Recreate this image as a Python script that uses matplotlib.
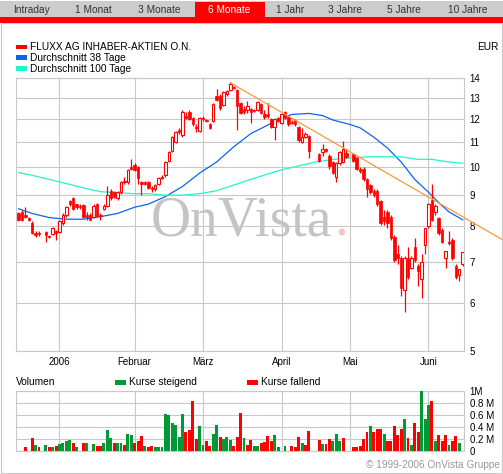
import numpy as np
import matplotlib
matplotlib.use("Agg")
import matplotlib.pyplot as plt
from matplotlib.patches import Rectangle
from matplotlib.ticker import NullLocator

plt.rcParams['font.family'] = ['Liberation Sans', 'DejaVu Sans']

# daily candles, one slot per weekday (nan = no trading)
nan = np.nan
opens = [8.40, 8.45, 8.35, 8.25, 8.10, 7.80, 7.80, nan, 7.82, 7.72,
         7.78, 7.85, 7.82, 8.10, 8.35, 8.80, 8.90, 8.70, 8.65, 8.66,
         8.35, 8.35, 8.30, 8.70, 8.35, 8.55, 8.65, 9.15, 9.10, 8.90,
         9.10, 9.45, 9.45, 10.00, 10.10, 10.00, 9.45, 9.45, 9.45, 9.25,
         9.20, 9.40, 9.60, 9.70, 10.25, 10.65, 11.00, 11.50, 11.30, 12.15,
         12.30, 12.05, 11.60, 11.45, 12.05, 11.95, 11.75, 11.90, 13.10, 13.10,
         12.65, 13.20, 13.40, 13.55, 13.40, 12.75, 12.45, 12.40, 12.45, 12.40,
         12.40, 12.70, 12.20, 12.20, 12.00, 11.65, 12.05, 11.80, 12.30, 12.10,
         11.85, 11.95, 11.65, 11.00, 11.20, 11.25, nan, nan, 10.50, 10.60,
         10.70, 10.45, 10.20, 9.65, 10.15, 10.20, 10.55, nan, 10.50, 10.35,
         9.95, 9.95, 9.55, 9.35, 9.15, 9.15, 8.80, 8.30, 8.45, 8.30,
         7.70, 7.20, 7.10, 6.30, 7.10, 6.85, 7.40, 6.90, 6.55, 7.45,
         8.00, 8.85, 8.45, 8.25, 7.90, 7.10, 7.50, 7.60, 6.90, 6.65,
         6.95]
highs = [8.45, 8.50, 8.60, 8.30, 8.15, 7.85, 7.85, nan, 7.85, 7.75,
         7.98, 7.90, 8.20, 8.40, 8.65, 8.85, 8.95, 8.72, 8.70, 8.70,
         8.45, 8.40, 8.70, 8.75, 8.40, 8.70, 9.30, 9.20, 9.15, 9.15,
         9.50, 9.65, 9.95, 10.30, 10.15, 10.05, 9.50, 9.50, 9.50, 9.30,
         9.40, 9.65, 9.70, 10.25, 10.65, 11.25, 11.45, 11.60, 12.40, 12.30,
         12.40, 12.10, 11.75, 12.10, 12.15, 12.00, 11.80, 12.75, 13.45, 13.20,
         13.35, 13.40, 13.80, 13.60, 13.45, 12.80, 12.60, 12.85, 12.50, 12.45,
         12.85, 12.75, 12.40, 12.75, 12.05, 12.05, 12.10, 12.25, 12.35, 12.15,
         11.95, 12.00, 11.70, 11.60, 11.40, 11.30, nan, nan, 10.55, 10.90,
         10.75, 10.50, 10.25, 10.20, 10.65, 11.05, 10.70, nan, 10.55, 10.40,
         10.00, 10.00, 9.60, 9.40, 9.20, 9.20, 8.85, 8.50, 8.50, 8.35,
         7.75, 7.45, 7.15, 7.15, 7.40, 7.15, 7.65, 6.95, 7.20, 7.95,
         8.75, 9.40, 8.70, 8.30, 7.95, 7.30, 7.85, 7.65, 6.95, 6.80,
         7.25]
lows = [8.15, 8.15, 8.25, 8.15, 7.78, 7.70, 7.72, nan, 7.55, 7.65,
        7.75, 7.60, 7.80, 8.05, 8.30, 8.65, 8.50, 8.55, 8.55, 8.25,
        8.20, 8.18, 8.25, 8.28, 8.20, 8.50, 8.60, 8.85, 8.90, 8.85,
        9.05, 9.40, 9.40, 9.90, 9.85, 9.40, 9.00, 9.35, 9.20, 9.10,
        9.15, 9.35, 9.55, 9.65, 10.20, 10.60, 10.95, 11.35, 11.20, 12.00,
        11.95, 11.70, 11.40, 11.40, 11.90, 11.85, 11.55, 11.85, 12.85, 12.40,
        12.60, 13.10, 13.35, 13.45, 11.50, 12.20, 12.20, 12.25, 11.80, 12.30,
        12.35, 12.20, 12.00, 12.05, 11.60, 11.10, 11.85, 11.75, 12.00, 11.70,
        11.75, 11.70, 11.00, 10.95, 11.15, 10.35, nan, nan, 10.20, 10.45,
        10.60, 9.95, 9.75, 9.45, 10.10, 10.15, 10.35, nan, 10.20, 9.90,
        9.80, 9.50, 8.95, 9.05, 8.95, 8.65, 8.05, 8.05, 7.95, 7.60,
        7.00, 6.95, 6.15, 5.80, 6.55, 6.80, 7.00, 6.40, 6.10, 7.20,
        7.95, 8.15, 8.35, 7.75, 7.50, 6.85, 7.45, 7.05, 6.55, 6.50,
        6.90]
closes = [8.20, 8.20, 8.30, 8.20, 7.80, 7.75, 7.77, nan, 7.75, 7.68,
          7.95, 7.80, 8.15, 8.35, 8.60, 8.72, 8.55, 8.60, 8.60, 8.30,
          8.30, 8.20, 8.65, 8.32, 8.32, 8.65, 9.00, 8.90, 8.95, 9.10,
          9.45, 9.50, 9.90, 9.95, 9.90, 9.60, 9.40, 9.40, 9.25, 9.20,
          9.35, 9.60, 9.65, 10.20, 10.60, 11.20, 11.40, 11.40, 12.30, 12.05,
          12.00, 11.75, 11.65, 12.05, 12.00, 11.90, 11.60, 12.70, 12.90, 12.50,
          13.30, 13.35, 13.70, 13.50, 12.60, 12.25, 12.30, 12.60, 12.30, 12.35,
          12.80, 12.25, 12.10, 12.15, 11.65, 12.00, 11.90, 12.20, 12.05, 11.75,
          11.80, 11.75, 11.10, 11.20, 11.35, 10.65, nan, nan, 10.25, 10.70,
          10.65, 10.05, 9.80, 10.15, 10.60, 10.70, 10.40, nan, 10.25, 9.95,
          9.85, 9.55, 9.20, 9.10, 9.00, 8.70, 8.10, 8.15, 8.10, 7.65,
          7.05, 7.10, 6.35, 7.10, 6.60, 7.10, 7.05, 6.75, 7.00, 7.95,
          8.70, 8.20, 8.65, 7.80, 7.55, 7.30, 7.55, 7.10, 6.60, 6.80,
          7.25]

# volume in millions, 'g' = Kurse steigend, 'r' = Kurse fallend, '-' = none
volume = [0, 0, 0.07, 0, 0.22, 0.10, 0.07, 0, 0.10, 0.07,
          0.07, 0.09, 0.12, 0.14, 0.17, 0.18, 0.14, 0.07, 0, 0.14,
          0.13, 0, 0.12, 0.09, 0.08, 0.13, 0.35, 0.22, 0.14, 0.13,
          0.14, 0.10, 0.28, 0.27, 0.14, 0.17, 0.25, 0.08, 0.07, 0.08,
          0.07, 0.07, 0.07, 0.62, 0.60, 0.46, 0.43, 0.24, 0.62, 0.31,
          0.35, 0.83, 0.20, 0.42, 0.10, 0.17, 0.09, 0.28, 0.43, 0.24,
          0.20, 0.24, 0.18, 0.08, 0.24, 0.64, 0.22, 0.10, 0.18, 0.08,
          0.08, 0.14, 0.15, 0.25, 0.16, 0.27, 0.07, 0, 0.08, 0,
          0.08, 0.07, 0.24, 0.14, 0.10, 0.33, 0, 0, 0.19, 0.12,
          0.12, 0.20, 0.17, 0.28, 0.17, 0.22, 0, 0, 0.07, 0.07,
          0.08, 0.20, 0.31, 0.42, 0.31, 0.37, 0.37, 0.28, 0.17, 0.17,
          0.42, 0.27, 0.37, 0.53, 0.22, 0.10, 0.47, 0.32, 1.00, 0.53,
          0.77, 0.83, 0.16, 0.27, 0.17, 0.27, 0.10, 0.17, 0.25, 0.13,
          0]
vol_dir = ''.join(['--r-rgr-gr', 'grggggrg-r', 'g-grrgggrg', 'grggrrrgrr',
                   'gggggggggr', 'rrrggrrggr', 'gggrrrgrrg', 'grrrrgg-g-',
                   'rrrgrr--rg', 'rrgggr--rr', 'rrrgrrrgrr', 'rrrgrgrrgg',
                   'grgrrrgrrg', '-'])

# moving averages
ma38_idx = [0, 4, 9, 14, 19, 24, 29, 34, 38, 43, 48, 53, 58, 63, 68, 72,
            77, 80, 85, 89, 92, 97, 100, 104, 108, 112, 116, 120, 123, 126, 130]
ma38 = [8.55, 8.40, 8.27, 8.22, 8.22, 8.30, 8.40, 8.60, 8.70, 8.95, 9.30,
        9.78, 10.20, 10.80, 11.35, 11.65, 12.05, 12.20, 12.25, 12.15, 11.95,
        11.75, 11.60, 11.20, 10.75, 10.20, 9.55, 9.10, 8.75, 8.45, 8.20]
ma100_idx = [0, 4, 9, 14, 19, 24, 29, 34, 38, 43, 48, 53, 58, 63, 68, 73,
             77, 82, 87, 92, 97, 102, 107, 112, 117, 121, 126, 130]
ma100 = [9.80, 9.70, 9.55, 9.40, 9.25, 9.12, 9.08, 9.05, 9.05, 9.00, 9.00,
         9.05, 9.15, 9.35, 9.55, 9.75, 9.90, 10.05, 10.20, 10.30, 10.35,
         10.40, 10.40, 10.40, 10.30, 10.30, 10.20, 10.15]

trend_idx = [62, 141.8]
trend_val = [13.75, 7.6]

month_idx = [12, 34, 54, 77, 97, 120]
month_labels = ['2006', 'Februar', 'März', 'April', 'Mai', 'Juni']
price_ticks = [5, 6, 7, 8, 9, 10, 11, 12, 13, 14]
vol_ticks = [0, 0.2, 0.4, 0.6, 0.8, 1.0]
vol_labels = ['0', '0.2 M', '0.4 M', '0.6 M', '0.8 M', '1M']
tabs = ['Intraday', '1 Monat', '3 Monate', '6 Monate', '1 Jahr', '3 Jahre', '5 Jahre', '10 Jahre']
tab_x = [31.7, 93, 158.8, 228.8, 290, 345, 404, 467.5]

RED = '#ff0000'
GREEN = '#009933'
BLUE = '#0a64f0'
CYAN = '#22f5c8'
ORANGE = '#ff9933'
GRID = '#c8c8c8'

W, H = 503, 474
fig = plt.figure(figsize=(W / 100, H / 100), dpi=100)


def fx(px):
    return px / W


def fy(py):
    return 1 - py / H


def box(x0, y0, x1, y1, **kw):
    fig.patches.append(Rectangle((fx(x0), fy(y1)), fx(x1) - fx(x0), fy(y0) - fy(y1),
                                 transform=fig.transFigure, **kw))


# tab bar
box(0, 1, W, 17.3, color='#cccccc', lw=0)
box(195, 2, 265, 17.3, color=RED, lw=0)
box(0, 17.3, W, 22.7, color=RED, lw=0)
for t, tx in zip(tabs, tab_x):
    fig.text(fx(tx), fy(10), t, ha='center', va='center', fontsize=7.3,
             color='white' if t == '6 Monate' else '#333333')
# outer frame
box(0.5, 23, W - 1, 472.5, fill=False, ec=GRID, lw=0.8)

ax = fig.add_axes([fx(16), fy(351), fx(464) - fx(16), fy(78) - fy(351)])
axv = fig.add_axes([fx(16), fy(451), fx(464) - fx(16), fy(391) - fy(451)])

x = np.arange(len(closes))
o = np.array(opens)
h = np.array(highs)
l = np.array(lows)
c = np.array(closes)
ok = ~np.isnan(c)

ax.set_yscale('log')
ax.vlines(x[ok], l[ok], h[ok], color=RED, lw=0.9, zorder=3)
up = ok & (c >= o)
dn = ok & (c < o)
ax.bar(x[up], np.maximum(c[up] - o[up], 0.03), bottom=o[up], width=0.72,
       facecolor='white', edgecolor=RED, lw=0.8, zorder=4)
ax.bar(x[dn], np.maximum(o[dn] - c[dn], 0.03), bottom=c[dn], width=0.72,
       facecolor=RED, edgecolor=RED, lw=0.5, zorder=4)

ax.plot(ma38_idx, ma38, color=BLUE, lw=0.9, zorder=2)
ax.plot(ma100_idx, ma100, color=CYAN, lw=0.9, zorder=2)
ax.plot(trend_idx, trend_val, color=ORANGE, lw=0.9, zorder=5, clip_on=False)

# watermark
ax.text(fx(151), fy(235), 'OnVista', transform=fig.transFigure, fontsize=40,
        family='Liberation Serif', color='#c4c4c4', va='baseline', zorder=1)
ax.text(fx(334), fy(235), '.', transform=fig.transFigure, fontsize=40,
        family='Liberation Serif', color='#f6c4c4', va='baseline', zorder=1)

ax.set_xlim(-0.73, 130.4)
ax.set_ylim(5, 14)
ax.set_yticks(price_ticks)
ax.set_yticklabels([str(v) for v in price_ticks])
ax.yaxis.set_minor_locator(NullLocator())
ax.set_xticks(month_idx)
ax.set_xticklabels(month_labels)

vcol = [GREEN if d == 'g' else RED for d in vol_dir]
axv.bar(x, volume, width=0.85, color=vcol, zorder=3)
axv.set_xlim(-0.73, 130.4)
axv.set_ylim(0, 1)
axv.set_yticks(vol_ticks)
axv.set_yticklabels(vol_labels)
axv.set_xticks(month_idx)
axv.set_xticklabels([])

for a in (ax, axv):
    a.grid(True, color=GRID, lw=0.8, zorder=0)
    a.set_axisbelow(True)
    a.yaxis.tick_right()
    a.tick_params(length=0, labelsize=7, pad=4)
    for s in a.spines.values():
        s.set_color(GRID)
        s.set_linewidth(0.8)

# legends
box(16, 44.5, 27, 49, color=RED, lw=0)
box(16, 55.5, 27, 60, color=BLUE, lw=0)
box(16, 66.5, 27, 71, color=CYAN, lw=0)
fig.text(fx(30), fy(47), 'FLUXX AG INHABER-AKTIEN O.N.', va='center', fontsize=7.3)
fig.text(fx(30), fy(58), 'Durchschnitt 38 Tage', va='center', fontsize=7.3)
fig.text(fx(30), fy(69.5), 'Durchschnitt 100 Tage', va='center', fontsize=7.3)
fig.text(fx(477), fy(47), 'EUR', va='center', fontsize=7.3)

fig.text(fx(16), fy(382), 'Volumen', va='center', fontsize=7.3)
box(115, 380, 126, 384.5, color=GREEN, lw=0)
fig.text(fx(129), fy(382), 'Kurse steigend', va='center', fontsize=7.3)
box(247, 380, 258, 384.5, color=RED, lw=0)
fig.text(fx(261), fy(382), 'Kurse fallend', va='center', fontsize=7.3)
fig.text(fx(500), fy(465), '© 1999-2006 OnVista Gruppe', ha='right', va='center',
         fontsize=7.3, color='#999999')

fig.savefig('out.png', dpi=100)
